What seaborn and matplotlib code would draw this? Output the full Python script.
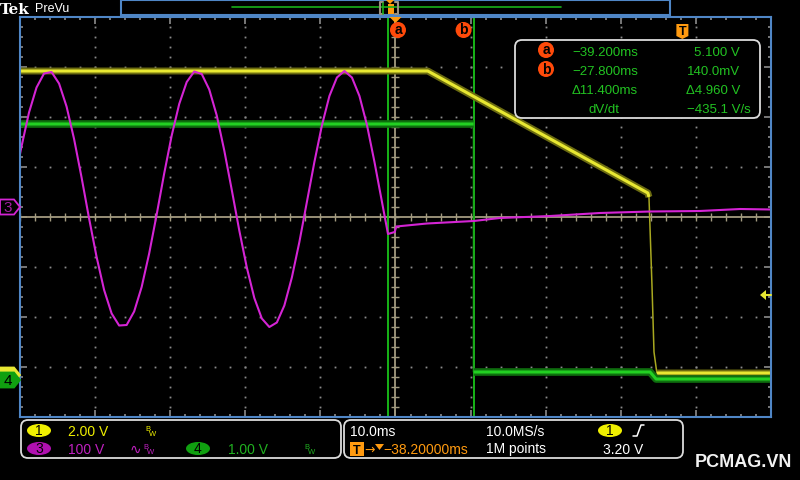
import numpy as np
import matplotlib.pyplot as plt
import matplotlib.patches as mpatches
import seaborn as sns

# ---- scope settings ----
center_time = -38.2          # ms, horizontal position
ms_per_div = 10.0
ch1_volts_per_div = 2.0
ch1_offset = -3.16           # divisions
ch3_offset = 0.20
ch4_offset = -3.26
trigger_level = 3.20         # V on ch1

# ---- traces (time in ms from trigger, level in screen divisions) ----
ch3_time = [-88.2, -88, -87, -86, -85, -84, -83, -82, -81, -80,
            -79, -78, -77, -76, -75, -74, -73, -72, -71, -70,
            -69, -68, -67, -66, -65, -64, -63, -62, -61, -60,
            -59, -58, -57, -56, -55, -54, -53, -52, -51, -50,
            -49, -48, -47, -46, -45, -44, -43, -42, -41, -40,
            -39.2, -38.3, -38.1, -34.0, -27.8, -24.3, -17.6, -11.0, -4.3, 2.3, 7.7, 11.8]
ch3_div = [1.26, 1.41, 2.09, 2.59, 2.87, 2.90, 2.67, 2.21, 1.56, 0.79,
           -0.03, -0.80, -1.46, -1.93, -2.17, -2.16, -1.89, -1.40, -0.73, 0.05,
           0.87, 1.63, 2.26, 2.70, 2.91, 2.86, 2.55, 2.03, 1.33, 0.54,
           -0.27, -1.01, -1.62, -2.03, -2.20, -2.11, -1.77, -1.21, -0.50, 0.30,
           1.10, 1.83, 2.42, 2.79, 2.92, 2.79, 2.42, 1.84, 1.10, 0.30,
           -0.34, -0.30, -0.19, -0.13, -0.08, -0.02, 0.02, 0.08, 0.11, 0.12, 0.16, 0.15]

ch1_time = [-88.2, -33.9, -4.6, -4.45, -4.05, -3.78, -3.4, 11.8]
ch1_div = [2.92, 2.92, 0.48, 0.40, -1.36, -2.70, -3.12, -3.12]

ch4_time = [-88.2, -27.8, -27.8, -4.3, -3.5, 11.8]
ch4_div = [1.86, 1.86, -3.10, -3.10, -3.24, -3.24]

cursor_times = [-39.2, -27.8]
cursor_labels = ["a", "b"]
readout_times = ["\u221239.200ms", "\u221227.800ms", "\u039411.400ms"]
readout_values = ["5.100 V", "140.0mV", "\u03944.960 V", "\u2212435.1 V/s"]

YEL = "#e8e832"
MAG = "#d424d4"
GRN = "#22d022"
TXT_GRN = "#22c322"
ORANGE = "#ff9a10"
RED_OR = "#ff4a0a"
BEIGE = "#a39b80"
BLUE = "#4f86c6"
DOT = "#8c8c8c"

sns.set_theme(style="dark", rc={"axes.facecolor": "black", "figure.facecolor": "black"})
plt.rcParams["font.family"] = ["Liberation Sans", "DejaVu Sans"]

fig = plt.figure(figsize=(8, 4.8), dpi=100)
ax = fig.add_axes([20 / 800, 63 / 480, 751 / 800, 400 / 480])
t0 = center_time - 5 * ms_per_div
t1 = center_time + 5 * ms_per_div
ax.set_xlim(t0, t1)
ax.set_ylim(-4, 4)
ax.grid(False)

# graticule
major_x = center_time + ms_per_div * np.arange(-5, 6)
major_y = np.arange(-4, 5)
minor_x = center_time + np.arange(-50, 50.01, 2)
minor_y = np.arange(-4, 4.01, 0.2)
for k, gx in enumerate(major_x[1:-1]):
    if k == 4:
        continue
    ax.plot(np.full_like(minor_y, gx), minor_y, ls="none", marker="s", ms=1.3, mew=0, color=DOT)
for gy in major_y[1:-1]:
    if gy == 0:
        continue
    ax.plot(minor_x, np.full_like(minor_x, gy), ls="none", marker="s", ms=1.3, mew=0, color=DOT)

ax.set_xticks(major_x)
ax.set_yticks(major_y)
ax.set_xticks(minor_x, minor=True)
ax.set_yticks(minor_y, minor=True)
ax.tick_params(which="both", direction="in", top=True, right=True, bottom=True, left=True,
               labelbottom=False, labelleft=False, color=DOT, width=1.2)
ax.tick_params(which="major", length=5)
ax.tick_params(which="minor", length=2.5)
for sp in ax.spines.values():
    sp.set_color(BLUE)
    sp.set_linewidth(1.5)

# center crosshair
ax.axhline(0, color=BEIGE, lw=1.3)
ax.axvline(center_time, color=BEIGE, lw=1.3)
ax.plot(minor_x, np.zeros_like(minor_x), ls="none", marker="|", ms=6, mew=1, color=BEIGE)
ax.plot(np.full_like(minor_y, center_time), minor_y, ls="none", marker="_", ms=6, mew=1, color=BEIGE)

# cursors
for ct in cursor_times:
    ax.axvline(ct, color="#19c219", lw=1.3)


def slow_parts(t, v, max_slope=1.0):
    # break the trace at fast edges so the thick, noisy band only covers slow parts
    xs, ys = [t[0]], [v[0]]
    for i in range(1, len(t)):
        dt = t[i] - t[i - 1]
        if dt == 0 or abs(v[i] - v[i - 1]) / dt > max_slope:
            xs.append(np.nan)
            ys.append(np.nan)
        xs.append(t[i])
        ys.append(v[i])
    return xs, ys


# traces
sns.lineplot(x=ch1_time, y=ch1_div, ax=ax, sort=False, estimator=None, color="#a8a820", lw=1.1)
y1x, y1y = slow_parts(ch1_time, ch1_div)
ax.plot(y1x, y1y, color="#6b6b10", lw=5, solid_capstyle="butt")
ax.plot(y1x, y1y, color=YEL, lw=2.2, solid_capstyle="butt")

sns.lineplot(x=ch4_time, y=ch4_div, ax=ax, sort=False, estimator=None, color="#1aa81a", lw=1.2)
g4x, g4y = slow_parts(ch4_time, ch4_div)
ax.plot(g4x, g4y, color="#0e6e0e", lw=5.5, solid_capstyle="butt")
ax.plot(g4x, g4y, color=GRN, lw=2.2, solid_capstyle="butt")

sns.lineplot(x=ch3_time, y=ch3_div, ax=ax, sort=False, estimator=None, color=MAG, lw=1.5)
ax.set_xlabel("")
ax.set_ylabel("")

# ---- overlay in pixel coordinates ----
ov = fig.add_axes([0, 0, 1, 1])
ov.set_xlim(0, 800)
ov.set_ylim(480, 0)
ov.axis("off")


def px_x(t):
    return 20 + (t - t0) * 751 / (t1 - t0)


def px_y(d):
    return 217 - 50 * d


def circle_label(x, y, s):
    ov.add_patch(mpatches.Circle((x, y), 8, fc=RED_OR, ec="none"))
    ov.text(x, y + 0.5, s, ha="center", va="center", fontsize=10, fontweight="bold", color="black")


def badge(x, y, s, fc, w=24, h=13):
    ov.add_patch(mpatches.Ellipse((x, y), w, h, fc=fc, ec="none"))
    ov.text(x, y + 4.5, s, ha="center", va="baseline", fontsize=10, color="black")


def tag(y, s, fc, ec, tc):
    pts = [(0, y - 7.5), (14, y - 7.5), (20, y), (14, y + 7.5), (0, y + 7.5)]
    ov.add_patch(mpatches.Polygon(pts, closed=True, fc=fc, ec=ec, lw=1.3))
    if s:
        ov.text(8, y + 5, s, ha="center", va="baseline", fontsize=11, color=tc)


# header
ov.text(0, 14, "Tek", fontfamily="DejaVu Serif", fontweight="bold", fontsize=11, color="white")
ov.text(35, 12.5, "PreVu", fontsize=9, color="white")
ov.add_patch(mpatches.Rectangle((121, 0), 549, 15, fc="none", ec=BLUE, lw=1.5))
ov.plot([232, 561], [7, 7], color="#19b019", lw=1.2)
ov.plot([383, 380, 380, 383], [2, 2, 14, 14], color="#9a9080", lw=1.5)
ov.plot([395, 398, 398, 395], [2, 2, 14, 14], color="#9a9080", lw=1.5)
ov.plot([383, 383], [3, 14], color="#19b019", lw=1.2)
ov.add_patch(mpatches.Rectangle((388, 4), 6, 10, fc=ORANGE, ec="none"))
ov.add_patch(mpatches.Polygon([(386, 0), (394, 0), (390, 4)], fc=ORANGE, ec="none"))

# markers on the graticule
cx = px_x(center_time)
ov.add_patch(mpatches.Polygon([(cx - 6, 17), (cx + 6, 17), (cx, 23)], fc=ORANGE, ec="none"))
circle_label(px_x(cursor_times[0]) + 10, 30, cursor_labels[0])
circle_label(px_x(cursor_times[1]) - 10, 30, cursor_labels[1])
tx = px_x(0)
ov.add_patch(mpatches.Polygon([(tx - 6, 24), (tx + 6, 24), (tx + 6, 36), (tx, 39), (tx - 6, 36)],
                              fc=ORANGE, ec="none"))
ov.text(tx, 35, "T", ha="center", va="baseline", fontsize=9, fontweight="bold", color="black")

# channel tags (ch1 tag sits behind ch4, only its edge shows)
tag(px_y(ch1_offset), "", YEL, YEL, "black")
tag(px_y(ch4_offset), "4", "#10a010", "#10a010", "black")
tag(px_y(ch3_offset), "3", "black", MAG, "#a020a0")

# trigger level arrow
ty = px_y(ch1_offset + trigger_level / ch1_volts_per_div)
ov.add_patch(mpatches.Polygon([(760, ty), (766, ty - 5), (766, ty + 5)], fc=YEL, ec="none"))
ov.plot([766, 771], [ty, ty], color=YEL, lw=1.5)

# cursor readout
ov.add_patch(mpatches.FancyBboxPatch((515, 40), 245, 78, boxstyle="round,pad=0,rounding_size=7",
                                     fc="black", ec="#dcdcdc", lw=1.3))
circle_label(546, 50, cursor_labels[0])
circle_label(546, 69, cursor_labels[1])
rows_y = [55.5, 75, 94, 113]
for s, y in zip(readout_times, rows_y):
    ov.text(638, y, s, ha="right", va="baseline", fontsize=9.5, color=TXT_GRN)
ov.text(604, rows_y[3], "dV/dt", ha="center", va="baseline", fontsize=9.5, color=TXT_GRN)
for i, (s, y) in enumerate(zip(readout_values, rows_y)):
    ov.text(751 if i == 3 else 740, y, s, ha="right", va="baseline", fontsize=9.5, color=TXT_GRN)

# bottom status boxes
ov.add_patch(mpatches.FancyBboxPatch((21, 420), 320, 38, boxstyle="round,pad=0,rounding_size=7",
                                     fc="black", ec="#dcdcdc", lw=1.3))
ov.add_patch(mpatches.FancyBboxPatch((344, 420), 339, 38, boxstyle="round,pad=0,rounding_size=7",
                                     fc="black", ec="#dcdcdc", lw=1.3))
r1, r2 = 436, 453.5
badge(39, 430.5, "1", "#f0f000")
ov.text(68, r1, "2.00 V", fontsize=10, color="#f0f000", va="baseline")
ov.text(145, 431, "B", fontsize=5.5, color="#f0f000", va="baseline")
ov.text(149, 436, "W", fontsize=5.5, color="#f0f000", va="baseline")
badge(39, 448.5, "3", "#b010b0")
ov.text(68, r2, "100 V", fontsize=10, color="#c020c0", va="baseline")
ov.text(130, r2, "\u223f", fontsize=10, color="#c020c0", va="baseline", fontfamily="DejaVu Sans")
ov.text(143, 449, "B", fontsize=5.5, color="#c020c0", va="baseline")
ov.text(147, 454, "W", fontsize=5.5, color="#c020c0", va="baseline")
badge(198, 448.5, "4", "#10a010")
ov.text(228, r2, "1.00 V", fontsize=10, color="#20b020", va="baseline")
ov.text(304, 449, "B", fontsize=5.5, color="#20b020", va="baseline")
ov.text(308, 454, "W", fontsize=5.5, color="#20b020", va="baseline")

ov.text(350, r1, "10.0ms", fontsize=10, color="white", va="baseline")
ov.text(486, r1, "10.0MS/s", fontsize=10, color="white", va="baseline")
badge(610, 430.5, "1", "#f0f000")
ov.plot([633, 637, 641, 644], [436, 436, 425, 425], color="white", lw=1.1)
ov.add_patch(mpatches.Rectangle((350, 442), 14, 14, fc=ORANGE, ec="none"))
ov.text(357, 453.5, "T", ha="center", va="baseline", fontsize=9, fontweight="bold", color="black")
ov.text(364, r2, "\u2192", fontsize=9, color=ORANGE, va="baseline", fontfamily="DejaVu Sans")
ov.add_patch(mpatches.Polygon([(375, 444), (384, 444), (379.5, 450)], fc=ORANGE, ec="none"))
ov.text(383, r2, "\u221238.20000ms", fontsize=10, color=ORANGE, va="baseline")
ov.text(486, r2, "1M points", fontsize=10, color="white", va="baseline")
ov.text(603, r2, "3.20 V", fontsize=10, color="white", va="baseline")

ov.text(695, 467, "PCMAG.VN", fontsize=13, fontweight="bold", color="#f2f2f2", va="baseline")

fig.savefig("out.png", dpi=100, facecolor="black")
